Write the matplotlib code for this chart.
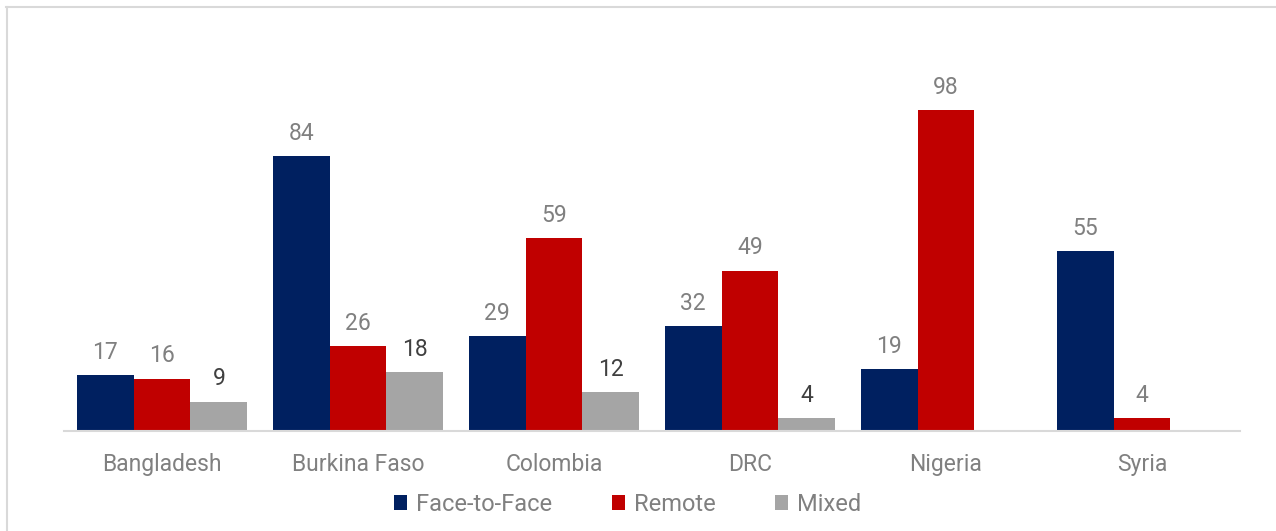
import matplotlib
matplotlib.use("Agg")
import matplotlib.pyplot as plt
from matplotlib.lines import Line2D
from matplotlib.patches import Patch
import numpy as np

plt.rcParams['font.family'] = ['Roboto', 'DejaVu Sans']

countries = ["Bangladesh", "Burkina Faso", "Colombia", "DRC", "Nigeria", "Syria"]
face_to_face = [17, 84, 29, 32, 19, 55]
remote = [16, 26, 59, 49, 98, 4]
mixed = [9, 18, 12, 4, 0, 0]

series = [
    ("Face-to-Face", face_to_face, "#002060", "#808080"),
    ("Remote", remote, "#C00000", "#808080"),
    ("Mixed", mixed, "#A5A5A5", "#404040"),
]

fig = plt.figure(figsize=(12.76, 5.31), dpi=100)
ax = fig.add_axes([64 / 1276, 100 / 531, 1176 / 1276, 393 / 531])

x = np.arange(len(countries))
width = 0.29
for i, (name, vals, color, lcolor) in enumerate(series):
    pos = x + (i - 1) * width
    bars = ax.bar(pos, vals, width, color=color, label=name)
    for b, v in zip(bars, vals):
        if v == 0:
            continue
        ax.annotate(str(v), (b.get_x() + b.get_width() / 2, v),
                    xytext=(0, 8), textcoords="offset points",
                    ha="center", va="bottom", fontsize=16.5, color=lcolor)

ax.set_xlim(-0.5, len(countries) - 0.5)
ax.set_ylim(0, 120)
ax.set_yticks([])
ax.set_xticks(x)
ax.set_xticklabels(countries, fontsize=16.5, color="#808080")
ax.tick_params(axis="x", length=0, pad=16)
for s in ["top", "right", "left"]:
    ax.spines[s].set_visible(False)
ax.spines["bottom"].set_color("#D9D9D9")
ax.spines["bottom"].set_linewidth(1.5)

handles = [Patch(facecolor=c) for _, _, c, _ in series]
fig.legend(handles, [s[0] for s in series], loc="center", ncol=3,
           bbox_to_anchor=(0.492, 0.05), frameon=False, fontsize=17,
           labelcolor="#808080", handlelength=0.55, handleheight=0.55,
           handletextpad=0.4, columnspacing=2.5)

# chart frame edges (top and left)
fig.add_artist(Line2D([6 / 1276, 1], [1 - 7 / 531, 1 - 7 / 531],
                      color="#D9D9D9", lw=1.5, transform=fig.transFigure))
fig.add_artist(Line2D([7 / 1276, 7 / 1276], [0, 1 - 7 / 531],
                      color="#D9D9D9", lw=1.5, transform=fig.transFigure))

fig.savefig("out.png", dpi=100)
